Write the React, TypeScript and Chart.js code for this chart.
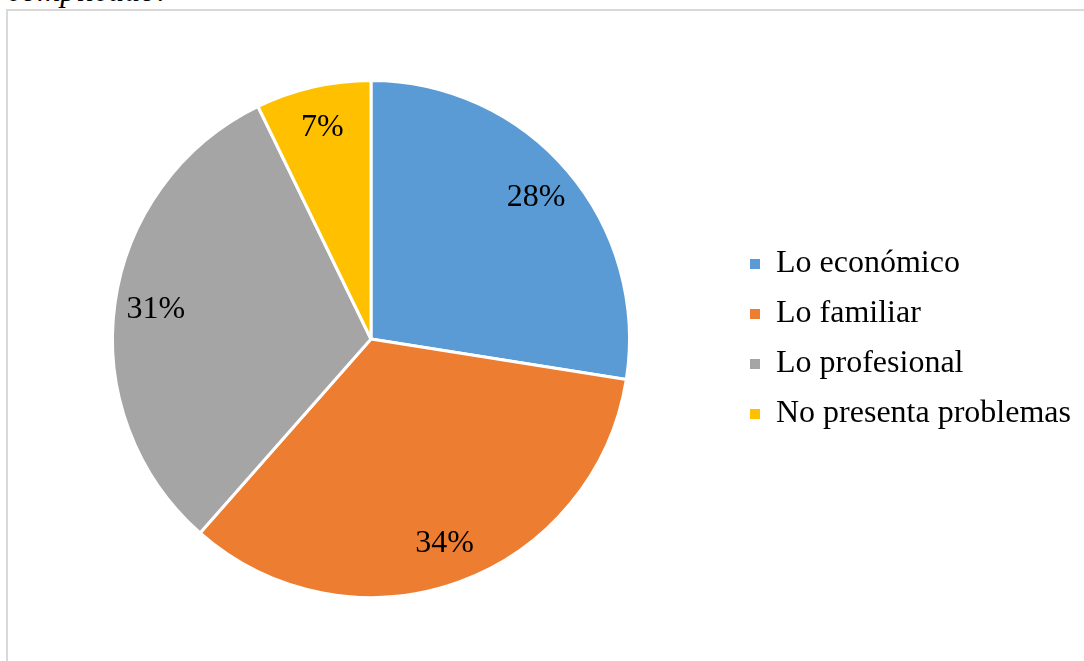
import React, { useEffect, useRef } from "react";
import { Chart, registerables } from "chart.js";

Chart.register(...registerables);

const categories = ["Lo económico", "Lo familiar", "Lo profesional", "No presenta problemas"];
const values = [27.5, 34.0, 31.3, 7.2];
const valueLabels = ["28%", "34%", "31%", "7%"];
const colors = ["#5B9BD5", "#ED7D31", "#A5A5A5", "#FFC000"];
const captionTail = "complicado:";

const FONT = "'Liberation Serif', 'Times New Roman', serif";

const sliceLabels = {
  id: "sliceLabels",
  afterDatasetsDraw(chart: any) {
    const ctx = chart.ctx;
    const meta = chart.getDatasetMeta(0);
    ctx.save();
    ctx.font = `32px ${FONT}`;
    ctx.fillStyle = "#000000";
    ctx.textAlign = "center";
    ctx.textBaseline = "middle";
    meta.data.forEach((arc: any, i: number) => {
      const { x, y, startAngle, endAngle, outerRadius } = arc.getProps(
        ["x", "y", "startAngle", "endAngle", "outerRadius"],
        true
      );
      const mid = (startAngle + endAngle) / 2;
      const r = outerRadius * 0.84;
      ctx.fillText(valueLabels[i], x + Math.cos(mid) * r, y + Math.sin(mid) * r);
    });
    ctx.restore();
  },
};

export default function App() {
  const ref = useRef<HTMLCanvasElement | null>(null);

  useEffect(() => {
    if (!ref.current) return;
    const chart = new Chart(ref.current, {
      type: "pie",
      data: {
        labels: categories,
        datasets: [
          {
            data: values,
            backgroundColor: colors,
            borderColor: "#FFFFFF",
            borderWidth: 3,
          },
        ],
      },
      options: {
        animation: false,
        responsive: false,
        devicePixelRatio: 1,
        layout: { padding: { left: 10, right: 3, top: 79, bottom: 62 } },
        plugins: {
          tooltip: { enabled: false },
          legend: {
            position: "right",
            align: "center",
            labels: {
              boxWidth: 10,
              boxHeight: 10,
              padding: 18,
              color: "#000000",
              font: { family: FONT, size: 32 },
              generateLabels: (c: any) => {
                const base = (Chart as any).overrides.pie.plugins.legend.labels.generateLabels(c);
                return base.map((item: any) => ({ ...item, lineWidth: 0, strokeStyle: "rgba(0,0,0,0)" }));
              },
            },
          },
        },
      },
      plugins: [sliceLabels],
    });
    return () => chart.destroy();
  }, []);

  return (
    <div
      style={{
        position: "fixed",
        left: 0,
        top: 0,
        width: 1084,
        height: 661,
        overflow: "hidden",
        background: "#FFFFFF",
      }}
    >
      <div
        style={{
          position: "absolute",
          left: 7,
          top: -26,
          fontFamily: FONT,
          fontStyle: "italic",
          fontSize: 32,
          lineHeight: "32px",
          color: "#000000",
          whiteSpace: "nowrap",
        }}
      >
        {captionTail}
      </div>
      <div
        style={{
          position: "absolute",
          left: 6,
          top: 9,
          width: 1200,
          height: 800,
          border: "2px solid #D9D9D9",
          boxSizing: "border-box",
        }}
      />
      <canvas
        ref={ref}
        width={1084}
        height={661}
        style={{ position: "absolute", left: 0, top: 0, width: 1084, height: 661 }}
      />
    </div>
  );
}
